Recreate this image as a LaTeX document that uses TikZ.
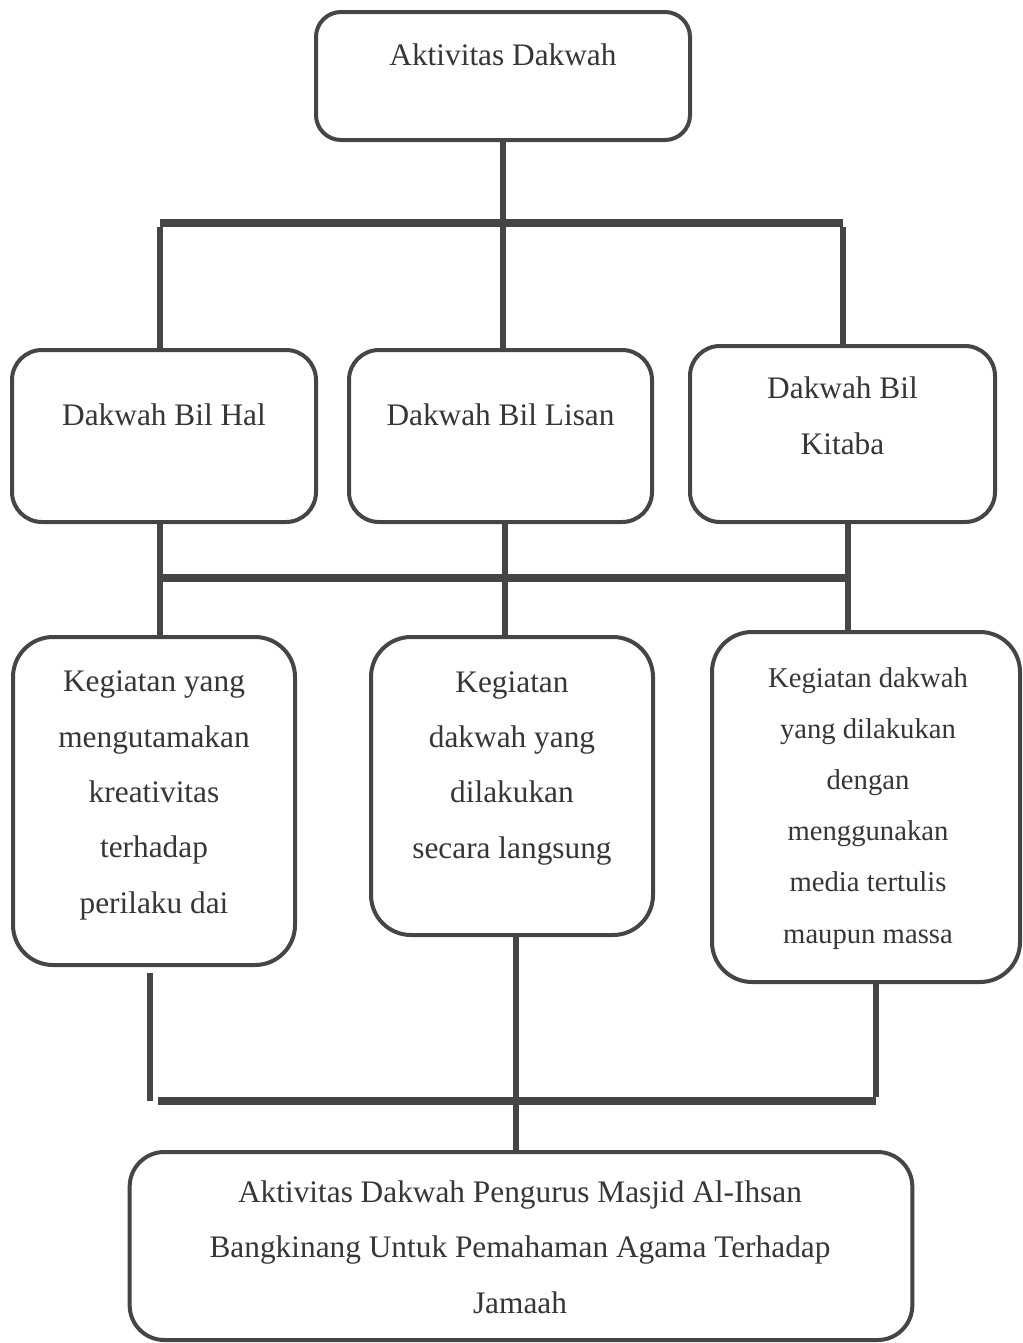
\documentclass[tikz,border=0pt]{standalone}
\usepackage{fontspec}
\setmainfont{Liberation Serif}
\definecolor{linec}{HTML}{454545}
\definecolor{textc}{HTML}{363636}
\begin{document}
\begin{tikzpicture}[x=0.75pt,y=-0.75pt,
  box/.style={draw=linec,line width=3pt,fill=white,inner sep=0pt,rectangle},
  txt/.style={text=textc,align=center,inner sep=0pt,anchor=base,font=\fontsize{23.5}{41.5}\selectfont},
  txtsmall/.style={text=textc,align=center,inner sep=0pt,anchor=base,font=\fontsize{21.5}{38.3}\selectfont},
  txtbig/.style={text=textc,align=center,inner sep=0pt,anchor=base,font=\fontsize{23.5}{41.6}\selectfont},
  vline/.style={draw=linec,line width=4pt},
  hbar/.style={draw=linec,line width=6pt}]
\useasboundingbox (0,0) rectangle (1022,1343);
% boxes
\node[box,rounded corners=18.75pt,minimum width=280.5pt,minimum height=96pt] (B0) at (503,76) {};
\node[box,rounded corners=22.5pt,minimum width=228pt,minimum height=129pt] (B1) at (164,436) {};
\node[box,rounded corners=22.5pt,minimum width=227.25pt,minimum height=129pt] (B2) at (500.5,436) {};
\node[box,rounded corners=22.5pt,minimum width=228.75pt,minimum height=132pt] (B3) at (842.5,434) {};
\node[box,rounded corners=30pt,minimum width=211.5pt,minimum height=246pt] (B4) at (154,801) {};
\node[box,rounded corners=30pt,minimum width=211.5pt,minimum height=223.5pt] (B5) at (512,786) {};
\node[box,rounded corners=30pt,minimum width=231pt,minimum height=262.5pt] (B6) at (866,807) {};
\node[box,rounded corners=26pt,minimum width=587pt,minimum height=141pt] (B7) at (521,1246) {};
% texts (multi-line nodes are anchored at the baseline of their last line)
\node[txt] (T0) at (503,65) {Aktivitas Dakwah};
\node[txt] (T1) at (164,425) {Dakwah Bil Hal};
\node[txt] (T2) at (500.5,425) {Dakwah Bil Lisan};
\node[txt] (T3) at (842.5,454) {Dakwah Bil\\Kitaba};
\node[txt] (T4) at (154,913) {Kegiatan yang\\mengutamakan\\kreativitas\\terhadap\\perilaku dai};
\node[txt] (T5) at (512,858) {Kegiatan\\dakwah yang\\dilakukan\\secara langsung};
\node[txtsmall] (T6) at (868,943) {Kegiatan dakwah\\yang dilakukan\\dengan\\menggunakan\\media tertulis\\maupun massa};
\node[txtbig] (T7) at (520,1313) {Aktivitas Dakwah Pengurus Masjid Al-Ihsan\\Bangkinang Untuk Pemahaman Agama Terhadap\\Jamaah};
% connector points
\coordinate (t1) at (160,223);
\coordinate (t2) at (843,223);
\coordinate (m1) at (160,578);
\coordinate (m2) at (505,578);
\coordinate (m3) at (848,578);
\coordinate (b0) at (150,973);
\coordinate (b1) at (150,1101);
\coordinate (b2) at (158,1101);
\coordinate (b3) at (516,1101);
\coordinate (b4) at (876,1101);
% top level
\draw[vline] (B0.south) -- (B0.south |- B2.north);
\draw[hbar] (t1) -- (t2);
\draw[vline] ([yshift=-3pt]t1) -- (t1 |- B1.north);
\draw[vline] ([yshift=-3pt]t2) -- (t2 |- B3.north);
% middle level
\draw[hbar] (m1) -- (m3);
\draw[vline] (m1 |- B1.south) -- (m1 |- B4.north);
\draw[vline] (m2 |- B2.south) -- (m2 |- B5.north);
\draw[vline] (m3 |- B3.south) -- (m3 |- B6.north);
% bottom level
\draw[vline] (b0) -- (b1);
\draw[hbar] (b2) -- (b4);
\draw[vline] (b3 |- B5.south) -- (b3 |- B7.north);
\draw[vline] (b4 |- B6.south) -- ([yshift=3pt]b4);
\end{tikzpicture}
\end{document}
